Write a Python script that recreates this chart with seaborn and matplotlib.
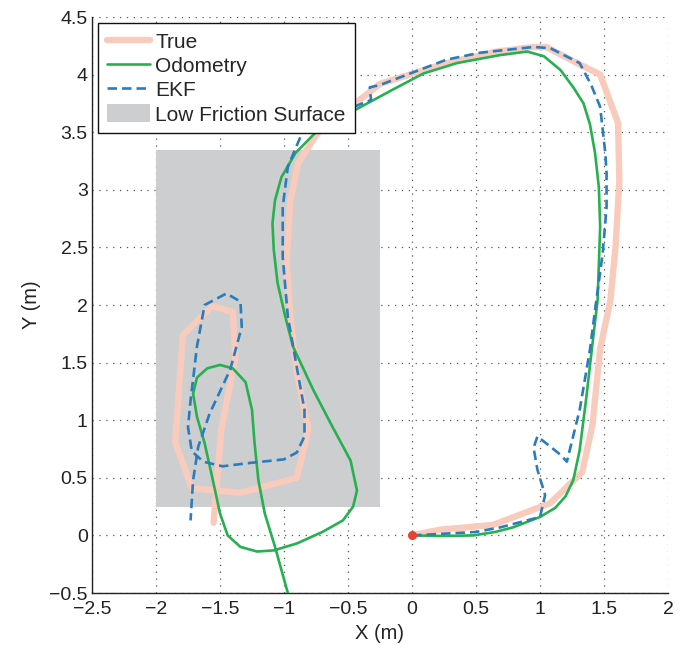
import matplotlib
matplotlib.use("Agg")
import matplotlib.pyplot as plt
import seaborn as sns
import pandas as pd
from matplotlib.patches import Rectangle, Patch
from matplotlib.lines import Line2D

# ---- data ----
true_x = [0, 0.22, 0.63, 1.08, 1.33, 1.41, 1.47, 1.55, 1.59, 1.62, 1.61, 1.47, 1.29, 1.05, 0.95,
          0.66, 0.27, -0.25, -0.74, -0.89, -0.95, -0.98, -0.95, -0.90, -0.81, -0.90, -1.34,
          -1.72, -1.85, -1.79, -1.56, -1.40, -1.38, -1.49, -1.55]
true_y = [0, 0.05, 0.09, 0.28, 0.55, 0.96, 1.62, 2.04, 2.5, 3.08, 3.58, 4.0, 4.1, 4.24, 4.24,
          4.2, 4.1, 3.92, 3.49, 3.23, 2.91, 2.36, 1.9, 1.41, 0.92, 0.5, 0.37,
          0.41, 0.81, 1.74, 1.99, 1.94, 1.55, 0.92, 0.11]

odo_x = [0, 0.25, 0.48, 0.65, 0.79, 1.0, 1.12, 1.2, 1.26, 1.31, 1.36, 1.42, 1.45, 1.47, 1.46,
         1.43, 1.39, 1.34, 1.26, 1.16, 1.03, 0.90, 0.69, 0.35, 0.09, -0.15, -0.45, -0.76,
         -0.91, -1.02, -1.07, -1.09, -1.08, -1.05, -0.99, -0.93, -0.85, -0.77, -0.62, -0.48,
         -0.43, -0.46, -0.54, -0.70, -0.90, -1.08, -1.21, -1.34, -1.44, -1.50, -1.55, -1.62,
         -1.68, -1.71, -1.68, -1.60, -1.50, -1.40, -1.30, -1.25, -1.23, -1.20, -1.15, -1.07,
         -0.97, -0.95]
odo_y = [0, -0.005, 0.0, 0.03, 0.07, 0.16, 0.24, 0.34, 0.48, 0.74, 1.18, 1.76, 2.04, 2.68, 3.02,
         3.32, 3.57, 3.75, 3.89, 4.04, 4.16, 4.2, 4.17, 4.1, 4.01, 3.87, 3.69, 3.49,
         3.32, 3.11, 2.91, 2.71, 2.48, 2.19, 1.9, 1.64, 1.45, 1.26, 0.94, 0.65,
         0.39, 0.25, 0.13, 0.03, -0.07, -0.13, -0.14, -0.10, 0.0, 0.19, 0.45, 0.80,
         1.03, 1.23, 1.37, 1.45, 1.48, 1.45, 1.33, 1.09, 0.80, 0.48, 0.19, -0.10,
         -0.5, -0.56]

ekf_x = [0, 0.5, 0.69, 1.0, 1.04, 0.98, 0.95, 0.98, 1.16, 1.21, 1.31, 1.39, 1.44, 1.49, 1.52,
         1.52, 1.51, 1.47, 1.40, 1.31, 1.08, 0.95, 0.53, 0.27, -0.25, -0.33, -0.32, -0.5,
         -0.86, -0.97, -1.01, -1.01, -0.97, -0.9, -0.84, -0.84, -0.9, -1.0, -1.26,
         -1.48, -1.63, -1.72, -1.75, -1.73, -1.68, -1.62, -1.45, -1.34, -1.33, -1.42, -1.58,
         -1.67, -1.71, -1.73]
ekf_y = [0, 0.03, 0.07, 0.16, 0.35, 0.57, 0.76, 0.86, 0.70, 0.64, 1.09, 1.61, 2.04, 2.45, 2.85,
         3.15, 3.32, 3.72, 3.91, 4.1, 4.23, 4.24, 4.19, 4.13, 3.91, 3.89, 3.78, 3.70,
         3.49, 3.2, 2.85, 2.42, 1.9, 1.46, 1.09, 0.86, 0.72, 0.66, 0.63,
         0.6, 0.64, 0.73, 0.94, 1.17, 1.64, 2.0, 2.1, 2.03, 1.81, 1.44, 1.06,
         0.77, 0.48, 0.13]

surface_x = [-2.0, -0.25]
surface_y = [0.25, 3.35]
start_pt = [0.0, 0.0]

labels = ["True", "Odometry", "EKF", "Low Friction Surface"]

c_true = "#F9CBBC"
c_odo = "#27B04F"
c_ekf = "#2A7CBD"
c_surf = "#CDCED0"

sns.set_style("white")
plt.rcParams["font.family"] = ["Liberation Sans", "DejaVu Sans"]

fig = plt.figure(figsize=(6.84, 6.45), dpi=100)
ax = fig.add_axes([0.1345, 0.0806, 0.8421, 0.893])

ax.add_patch(Rectangle((surface_x[0], surface_y[0]), surface_x[1] - surface_x[0],
                       surface_y[1] - surface_y[0], facecolor=c_surf, edgecolor="none", zorder=1))

sns.lineplot(data=pd.DataFrame({"x": true_x, "y": true_y}), x="x", y="y", sort=False,
             estimator=None, ax=ax, color=c_true, linewidth=4.6, zorder=2)
sns.lineplot(data=pd.DataFrame({"x": odo_x, "y": odo_y}), x="x", y="y", sort=False,
             estimator=None, ax=ax, color=c_odo, linewidth=1.9, zorder=3)
sns.lineplot(data=pd.DataFrame({"x": ekf_x, "y": ekf_y}), x="x", y="y", sort=False,
             estimator=None, ax=ax, color=c_ekf, linewidth=1.9, zorder=4)
ax.lines[-1].set_dashes([3.6, 1.9])
for ln in ax.lines:
    ln.set_solid_joinstyle("round")
    ln.set_dash_joinstyle("round")
ax.plot([start_pt[0]], [start_pt[1]], "o", color="#E8432D", markersize=5.5, zorder=5)

ax.set_xlim(-2.5, 2.0)
ax.set_ylim(-0.5, 4.5)
ax.set_xticks([-2.5, -2, -1.5, -1, -0.5, 0, 0.5, 1, 1.5, 2])
ax.set_xticklabels(["\u22122.5", "\u22122", "\u22121.5", "\u22121", "\u22120.5", "0", "0.5", "1", "1.5", "2"])
ax.set_yticks([-0.5, 0, 0.5, 1, 1.5, 2, 2.5, 3, 3.5, 4, 4.5])
ax.set_yticklabels(["\u22120.5", "0", "0.5", "1", "1.5", "2", "2.5", "3", "3.5", "4", "4.5"])
ax.tick_params(direction="in", length=4.5, width=0.8, labelsize=14, colors="#222222")
ax.tick_params(axis="x", pad=6)
ax.tick_params(axis="y", pad=3)
ax.set_axisbelow(True)
ax.grid(True, linestyle=(0, (1, 4.5)), color="#555555", linewidth=0.9)
for s in ["top", "right"]:
    ax.spines[s].set_visible(False)
for s in ["left", "bottom"]:
    ax.spines[s].set_color("#222222")
    ax.spines[s].set_linewidth(1.0)

ax.set_xlabel("X (m)", fontsize=14.5, labelpad=4, color="#222222")
ax.set_ylabel("Y (m)", fontsize=14.5, labelpad=6, color="#222222")

handles = [Line2D([], [], color=c_true, linewidth=4.6),
           Line2D([], [], color=c_odo, linewidth=1.9),
           Line2D([], [], color=c_ekf, linewidth=1.9, dashes=[3.6, 1.9]),
           Patch(facecolor=c_surf, edgecolor="none")]
leg = ax.legend(handles, labels, loc="upper left", bbox_to_anchor=(0.010, 0.99),
                borderaxespad=0, fontsize=15, frameon=True, fancybox=False,
                framealpha=1, edgecolor="#111111", handlelength=2.1, handleheight=0.95,
                handletextpad=0.25, labelspacing=0.2, borderpad=0.42)
leg.get_frame().set_linewidth(1.0)
leg.set_zorder(10)

fig.savefig("out.png", dpi=100)
